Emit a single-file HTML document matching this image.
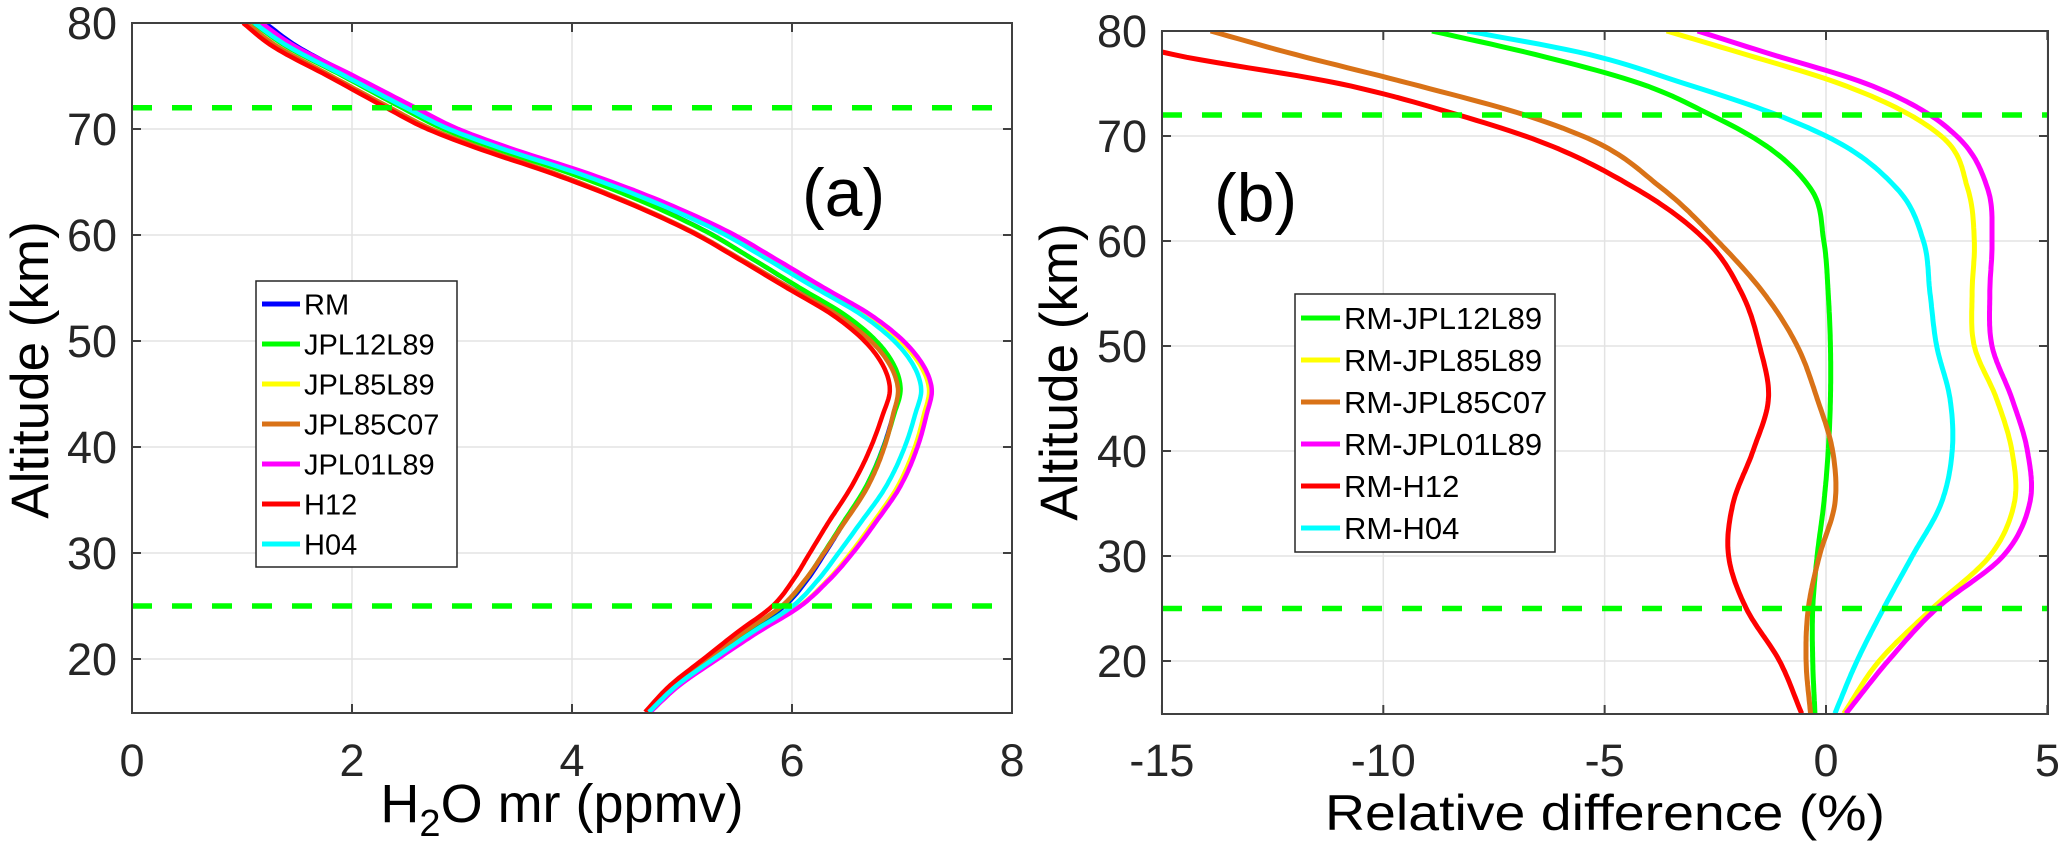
<!DOCTYPE html>
<html><head><meta charset="utf-8"><style>
html,body{margin:0;padding:0;background:#fff;}
svg{display:block;font-family:"Liberation Sans",Arial,sans-serif;}
</style></head><body>
<svg id="fig" width="2067" height="851" viewBox="0 0 2067 851" xmlns="http://www.w3.org/2000/svg">
<defs>
<clipPath id="clipA"><rect x="132" y="23" width="880" height="690"/></clipPath>
<clipPath id="clipB"><rect x="1162" y="31" width="886" height="683"/></clipPath>
</defs>
<g id="panelA"></g>
<g id="panelB"></g>
</svg>
<script>
// ---- data ----
const rmAlt = [15,17.5,20,22.5,25,27.5,30,33,36,40,43,45.5,47.5,50,52.5,55,58,60,63,66,68,70,72,75,78,80];
const rmVal = [4.69,4.93,5.25,5.58,5.93,6.14,6.30,6.48,6.66,6.83,6.92,6.98,6.93,6.76,6.47,6.07,5.60,5.28,4.68,3.95,3.38,2.88,2.52,2.00,1.47,1.21];
const diffAlt = [15,20,25,30,35,40,45,50,55,60,65,70,72,75,78,80];
const dJPL12L89 = [-0.25,-0.3,-0.3,-0.2,-0.05,0.05,0.1,0.1,0.05,-0.05,-0.35,-1.7,-2.6,-4.2,-6.8,-8.9];
const dJPL85L89 = [0.4,1.2,2.4,3.7,4.25,4.2,3.85,3.35,3.3,3.35,3.2,2.6,1.9,0.3,-2.0,-3.6];
const dJPL85C07 = [-0.35,-0.45,-0.4,-0.15,0.2,0.15,-0.2,-0.65,-1.4,-2.45,-3.7,-5.5,-6.8,-9.4,-12.2,-13.9];
const dJPL01L89 = [0.45,1.4,2.5,4.0,4.6,4.55,4.2,3.75,3.7,3.75,3.65,2.95,2.35,0.9,-1.4,-2.9];
const dH12 = [-0.55,-1.05,-1.8,-2.2,-2.1,-1.65,-1.3,-1.5,-1.9,-2.7,-4.3,-6.8,-8.3,-11,-15,-16.5];
const dH04 = [0.2,0.7,1.3,1.95,2.6,2.85,2.8,2.5,2.35,2.2,1.6,0,-1.1,-3.2,-5.6,-8.1];
const xTicksA = [0,2,4,6,8];
const xTicksB = [-15,-10,-5,0,5];
const yTicks = [20,30,40,50,60,70,80];
const refAlts = [72,25];
const seriesNames = ["JPL12L89","JPL85L89","JPL85C07","JPL01L89","H12","H04"];
const seriesColors = ["#00ff00","#ffff00","#d97217","#ff00ff","#ff0000","#00ffff"];
const seriesDiffs = [dJPL12L89,dJPL85L89,dJPL85C07,dJPL01L89,dH12,dH04];

// ---- axes ----
const xA = v => 132 + 110*v;
const yA = h => 23 + (80-h)*10.6;
const xB = d => 1826 + 44.27*d;
const yB = h => 31 + (80-h)*10.5;
const NS="http://www.w3.org/2000/svg";
function mk(tag, attrs, parent){const e=document.createElementNS(NS,tag);for(const k in attrs)e.setAttribute(k,attrs[k]);parent.appendChild(e);return e;}
function spline(xs, ys, x){
  const n=xs.length;
  if(x<=xs[0])return ys[0]; if(x>=xs[n-1])return ys[n-1];
  let i=1; while(x>xs[i])i++; i--;
  const slope=(k)=>{
    if(k===0)return (ys[1]-ys[0])/(xs[1]-xs[0]);
    if(k===n-1)return (ys[n-1]-ys[n-2])/(xs[n-1]-xs[n-2]);
    const h0=xs[k]-xs[k-1],h1=xs[k+1]-xs[k];
    const s0=(ys[k]-ys[k-1])/h0,s1=(ys[k+1]-ys[k])/h1;
    return (s0*h1+s1*h0)/(h0+h1);
  };
  const h=xs[i+1]-xs[i],t=(x-xs[i])/h;
  const m0=slope(i)*h,m1=slope(i+1)*h;
  const t2=t*t,t3=t2*t;
  return (2*t3-3*t2+1)*ys[i]+(t3-2*t2+t)*m0+(-2*t3+3*t2)*ys[i+1]+(t3-t2)*m1;
}
function sampleAlts(){const a=[];for(let h=15;h<=80.001;h+=0.25)a.push(h);return a;}
function poly(pts){return "M"+pts.map(p=>p[0].toFixed(1)+","+p[1].toFixed(1)).join(" L");}
function frame(g, x0, y0, x1, y1, xTicks, xf, yf){
  yTicks.forEach(t=>{const gl=mk("line",{x1:x0,x2:x1,y1:yf(t),y2:yf(t),stroke:"#e3e3e3","stroke-width":1.5},g);
    
    });
  xTicks.forEach(t=>{const gl=mk("line",{x1:xf(t),x2:xf(t),y1:y0,y2:y1,stroke:"#e3e3e3","stroke-width":1.5},g);
    
    });
}
function axesBox(g, x0, y0, x1, y1, xTicks, xf, yf, labX){
  const b=mk("rect",{x:x0,y:y0,width:x1-x0,height:y1-y0,fill:"none",stroke:"#404040","stroke-width":2},g);
  
  
  xTicks.forEach(t=>{
    mk("line",{x1:xf(t),x2:xf(t),y1:y1,y2:y1-9,stroke:"#404040","stroke-width":2},g);
    mk("line",{x1:xf(t),x2:xf(t),y1:y0,y2:y0+9,stroke:"#404040","stroke-width":2},g);
    const tl=mk("text",{x:xf(t),y:776,"font-size":45,"text-anchor":"middle",fill:"#262626"},g);
    tl.textContent=t;
    
    
  });
  yTicks.forEach(t=>{
    mk("line",{x1:x0,x2:x0+9,y1:yf(t),y2:yf(t),stroke:"#404040","stroke-width":2},g);
    mk("line",{x1:x1,x2:x1-9,y1:yf(t),y2:yf(t),stroke:"#404040","stroke-width":2},g);
    const tl=mk("text",{x:labX,y:yf(t)+16,"font-size":45,"text-anchor":"end",fill:"#262626"},g);
    tl.textContent=t;
    
    
  });
}
function refLines(g, x0, x1, yf){
  refAlts.forEach(h=>{const l=mk("line",{x1:x0,x2:x1,y1:yf(h),y2:yf(h),stroke:"#00ff00","stroke-width":5.5,"stroke-dasharray":"20,20"},g);
    
    });
}
function legend(g, x, y, w, rowH, names, colors, fs, lineX0, lineX1, textX){
  const r=mk("rect",{x:x,y:y,width:w,height:rowH*names.length+6,fill:"#fff",stroke:"#262626","stroke-width":1.5},g);
  
  
  names.forEach((n,i)=>{
    const cy=y+rowH*(i+0.5)+3;
    const eg=mk("g",{},g);
    
    
    mk("line",{x1:lineX0,x2:lineX1,y1:cy,y2:cy,stroke:colors[i],"stroke-width":5},eg);
    const t=mk("text",{x:textX,y:cy+fs*0.36,"font-size":fs,fill:"#000"},eg);
    t.textContent=n;
  });
}

const alts=sampleAlts();
// ---- panel A ----
const gA=document.getElementById("panelA");
frame(gA,132,23,1012,713,xTicksA,xA,yA);
const cA=mk("g",{"clip-path":"url(#clipA)"},gA);
const rmPts=alts.map(h=>[xA(spline(rmAlt,rmVal,h)),yA(h)]);
const rmPath=mk("path",{d:poly(rmPts),fill:"none",stroke:"#0000ff","stroke-width":4.5,"stroke-linejoin":"round"},cA);


seriesNames.forEach((n,k)=>{
  const pts=alts.map(h=>[xA(spline(rmAlt,rmVal,h)*(1+spline(diffAlt,seriesDiffs[k],h)/100)),yA(h)]);
  const p=mk("path",{d:poly(pts),fill:"none",stroke:seriesColors[k],"stroke-width":4.5,"stroke-linejoin":"round"},cA);
  
  
});
refLines(cA,132,1012,yA);
axesBox(gA,132,23,1012,713,xTicksA,xA,yA,117);
legend(gA,256,281,201,40,["RM"].concat(seriesNames),["#0000ff"].concat(seriesColors),29,262,300,304);
let t=mk("text",{x:802,y:216,"font-size":68,fill:"#000"},gA);t.textContent="(a)";


t=mk("text",{x:562,y:822,"font-size":54,"text-anchor":"middle",fill:"#000"},gA);
t.innerHTML='H<tspan font-size="38" dy="14">2</tspan><tspan dy="-14">O mr (ppmv)</tspan>';


t=mk("text",{x:0,y:0,"font-size":53,"text-anchor":"middle",fill:"#000",transform:"translate(48,370) rotate(-90)"},gA);
t.textContent="Altitude (km)";



// ---- panel B ----
const gB=document.getElementById("panelB");
frame(gB,1162,31,2048,714,xTicksB,xB,yB);
const cB=mk("g",{"clip-path":"url(#clipB)"},gB);
seriesNames.forEach((n,k)=>{
  const pts=alts.map(h=>[xB(spline(diffAlt,seriesDiffs[k],h)),yB(h)]);
  const p=mk("path",{d:poly(pts),fill:"none",stroke:seriesColors[k],"stroke-width":5,"stroke-linejoin":"round"},cB);
  
  
});
refLines(cB,1162,2048,yB);
axesBox(gB,1162,31,2048,714,xTicksB,xB,yB,1147);
legend(gB,1295,294,260,42,seriesNames.map(n=>"RM-"+n),seriesColors,31,1301,1340,1344);
t=mk("text",{x:1214,y:221,"font-size":68,fill:"#000"},gB);t.textContent="(b)";


t=mk("text",{x:1605,y:830,"font-size":50,"text-anchor":"middle",fill:"#000",textLength:560,lengthAdjust:"spacingAndGlyphs"},gB);
t.textContent="Relative difference (%)";


t=mk("text",{x:0,y:0,"font-size":53,"text-anchor":"middle",fill:"#000",transform:"translate(1077,372) rotate(-90)"},gB);
t.textContent="Altitude (km)";


</script>
</body></html>
